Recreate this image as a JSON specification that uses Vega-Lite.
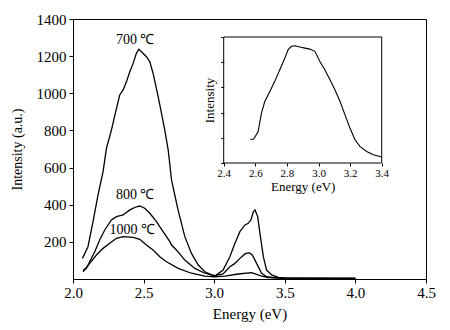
{
  "$schema": "https://vega.github.io/schema/vega-lite/v6.json",
  "width": 353,
  "height": 260,
  "autosize": {"type": "none"},
  "padding": {"left": 73, "top": 19, "right": 24, "bottom": 51},
  "background": "white",
  "config": {
    "view": {"stroke": "black", "strokeWidth": 1},
    "font": "Times New Roman",
    "text": {"font": "Times New Roman"},
    "axis": {
      "grid": false,
      "domainColor": "black",
      "tickColor": "black",
      "labelColor": "black",
      "titleColor": "black",
      "labelFont": "Times New Roman",
      "titleFont": "Times New Roman",
      "titleFontWeight": "normal",
      "labelFlush": false,
      "labelOverlap": false
    }
  },
  "datasets": {
    "main": [
      {"s": "700", "e": 2.067, "i": 111}, {"s": "700", "e": 2.106, "i": 174}, {"s": "700", "e": 2.142, "i": 309},
      {"s": "700", "e": 2.177, "i": 452}, {"s": "700", "e": 2.213, "i": 578}, {"s": "700", "e": 2.237, "i": 704},
      {"s": "700", "e": 2.272, "i": 802}, {"s": "700", "e": 2.308, "i": 919}, {"s": "700", "e": 2.331, "i": 991},
      {"s": "700", "e": 2.355, "i": 1018}, {"s": "700", "e": 2.379, "i": 1063}, {"s": "700", "e": 2.402, "i": 1116},
      {"s": "700", "e": 2.426, "i": 1161}, {"s": "700", "e": 2.449, "i": 1215}, {"s": "700", "e": 2.466, "i": 1237},
      {"s": "700", "e": 2.485, "i": 1224}, {"s": "700", "e": 2.52, "i": 1197}, {"s": "700", "e": 2.544, "i": 1170},
      {"s": "700", "e": 2.567, "i": 1108}, {"s": "700", "e": 2.603, "i": 982}, {"s": "700", "e": 2.627, "i": 892},
      {"s": "700", "e": 2.65, "i": 802}, {"s": "700", "e": 2.674, "i": 695}, {"s": "700", "e": 2.698, "i": 533},
      {"s": "700", "e": 2.72, "i": 455}, {"s": "700", "e": 2.744, "i": 372}, {"s": "700", "e": 2.792, "i": 228},
      {"s": "700", "e": 2.839, "i": 138}, {"s": "700", "e": 2.887, "i": 75}, {"s": "700", "e": 2.934, "i": 39},
      {"s": "700", "e": 2.981, "i": 22}, {"s": "700", "e": 3.005, "i": 16}, {"s": "700", "e": 3.063, "i": 48},
      {"s": "700", "e": 3.111, "i": 120}, {"s": "700", "e": 3.147, "i": 192}, {"s": "700", "e": 3.182, "i": 255},
      {"s": "700", "e": 3.218, "i": 291}, {"s": "700", "e": 3.241, "i": 300}, {"s": "700", "e": 3.26, "i": 318},
      {"s": "700", "e": 3.277, "i": 362}, {"s": "700", "e": 3.289, "i": 372}, {"s": "700", "e": 3.308, "i": 336},
      {"s": "700", "e": 3.324, "i": 246}, {"s": "700", "e": 3.348, "i": 120}, {"s": "700", "e": 3.371, "i": 48},
      {"s": "700", "e": 3.407, "i": 22}, {"s": "700", "e": 3.454, "i": 9}, {"s": "700", "e": 3.5, "i": 6},
      {"s": "700", "e": 3.7, "i": 5}, {"s": "700", "e": 4.0, "i": 4},
      {"s": "800", "e": 2.071, "i": 48}, {"s": "800", "e": 2.095, "i": 57}, {"s": "800", "e": 2.118, "i": 93},
      {"s": "800", "e": 2.154, "i": 147}, {"s": "800", "e": 2.189, "i": 210}, {"s": "800", "e": 2.225, "i": 264},
      {"s": "800", "e": 2.272, "i": 318}, {"s": "800", "e": 2.308, "i": 336}, {"s": "800", "e": 2.355, "i": 345},
      {"s": "800", "e": 2.402, "i": 372}, {"s": "800", "e": 2.449, "i": 389}, {"s": "800", "e": 2.473, "i": 393},
      {"s": "800", "e": 2.508, "i": 381}, {"s": "800", "e": 2.544, "i": 354}, {"s": "800", "e": 2.591, "i": 309},
      {"s": "800", "e": 2.638, "i": 255}, {"s": "800", "e": 2.686, "i": 201}, {"s": "800", "e": 2.698, "i": 183},
      {"s": "800", "e": 2.733, "i": 156}, {"s": "800", "e": 2.792, "i": 102}, {"s": "800", "e": 2.863, "i": 57},
      {"s": "800", "e": 2.934, "i": 31}, {"s": "800", "e": 3.005, "i": 18}, {"s": "800", "e": 3.063, "i": 27},
      {"s": "800", "e": 3.111, "i": 66}, {"s": "800", "e": 3.147, "i": 84}, {"s": "800", "e": 3.182, "i": 111},
      {"s": "800", "e": 3.218, "i": 135}, {"s": "800", "e": 3.246, "i": 142}, {"s": "800", "e": 3.27, "i": 129},
      {"s": "800", "e": 3.3, "i": 84}, {"s": "800", "e": 3.336, "i": 31}, {"s": "800", "e": 3.371, "i": 12},
      {"s": "800", "e": 3.45, "i": 6}, {"s": "800", "e": 3.6, "i": 4}, {"s": "800", "e": 4.0, "i": 3},
      {"s": "1000", "e": 2.071, "i": 39}, {"s": "1000", "e": 2.118, "i": 84}, {"s": "1000", "e": 2.166, "i": 129},
      {"s": "1000", "e": 2.213, "i": 165}, {"s": "1000", "e": 2.26, "i": 192}, {"s": "1000", "e": 2.308, "i": 219},
      {"s": "1000", "e": 2.355, "i": 228}, {"s": "1000", "e": 2.426, "i": 224}, {"s": "1000", "e": 2.473, "i": 214},
      {"s": "1000", "e": 2.52, "i": 183}, {"s": "1000", "e": 2.567, "i": 156}, {"s": "1000", "e": 2.615, "i": 120},
      {"s": "1000", "e": 2.662, "i": 93}, {"s": "1000", "e": 2.745, "i": 57}, {"s": "1000", "e": 2.839, "i": 31},
      {"s": "1000", "e": 2.934, "i": 16}, {"s": "1000", "e": 3.005, "i": 12}, {"s": "1000", "e": 3.076, "i": 16},
      {"s": "1000", "e": 3.17, "i": 27}, {"s": "1000", "e": 3.265, "i": 34}, {"s": "1000", "e": 3.336, "i": 16},
      {"s": "1000", "e": 3.383, "i": 7}, {"s": "1000", "e": 3.5, "i": 3}, {"s": "1000", "e": 4.0, "i": 2}
    ],
    "labels": [
      {"t": "700 ℃", "e": 2.44, "i": 1287},
      {"t": "800 ℃", "e": 2.44, "i": 452},
      {"t": "1000 ℃", "e": 2.42, "i": 264}
    ],
    "inset": [
      {"e": 2.569, "i": 0.93}, {"e": 2.59, "i": 0.95}, {"e": 2.618, "i": 1.25}, {"e": 2.639, "i": 1.98},
      {"e": 2.66, "i": 2.44}, {"e": 2.692, "i": 2.84}, {"e": 2.723, "i": 3.24}, {"e": 2.755, "i": 3.7},
      {"e": 2.787, "i": 4.17}, {"e": 2.808, "i": 4.5}, {"e": 2.829, "i": 4.63}, {"e": 2.85, "i": 4.65},
      {"e": 2.882, "i": 4.6}, {"e": 2.914, "i": 4.56}, {"e": 2.945, "i": 4.52}, {"e": 2.977, "i": 4.43},
      {"e": 3.009, "i": 4.03}, {"e": 3.04, "i": 3.7}, {"e": 3.072, "i": 3.31}, {"e": 3.104, "i": 2.91},
      {"e": 3.136, "i": 2.45}, {"e": 3.167, "i": 1.92}, {"e": 3.199, "i": 1.39}, {"e": 3.231, "i": 0.92},
      {"e": 3.262, "i": 0.66}, {"e": 3.305, "i": 0.46}, {"e": 3.347, "i": 0.33}, {"e": 3.4, "i": 0.24}
    ]
  },
  "layer": [
    {
      "data": {"name": "main"},
      "mark": {"type": "line", "color": "black", "strokeWidth": 1.3},
      "encoding": {
        "x": {
          "field": "e", "type": "quantitative",
          "scale": {"domain": [2, 4.5], "nice": false, "zero": false},
          "axis": {"orient": "bottom", "title": "Energy (eV)", "values": [2, 2.5, 3, 3.5, 4, 4.5], "format": ".1f",
                   "labelFontSize": 15, "titleFontSize": 15, "tickSize": 4, "labelPadding": 2, "titlePadding": 6}
        },
        "y": {
          "field": "i", "type": "quantitative",
          "scale": {"domain": [0, 1400], "nice": false, "zero": true},
          "axis": {"orient": "left", "title": "Intensity (a.u.)", "values": [200, 400, 600, 800, 1000, 1200, 1400],
                   "format": "d", "labelFontSize": 15, "titleFontSize": 14, "tickSize": 4, "labelPadding": 3, "titlePadding": 12}
        },
        "detail": {"field": "s"}
      }
    },
    {
      "data": {"name": "labels"},
      "mark": {"type": "text", "fontSize": 14, "font": "Times New Roman", "color": "black"},
      "encoding": {
        "x": {"field": "e", "type": "quantitative", "scale": {"domain": [2, 4.5], "nice": false, "zero": false}, "axis": null},
        "y": {"field": "i", "type": "quantitative", "scale": {"domain": [0, 1400], "nice": false, "zero": true}, "axis": null},
        "text": {"field": "t"}
      }
    },
    {
      "data": {"values": [{"x0": 2.4, "x1": 3.4, "y0": 0, "y1": 5}]},
      "mark": {"type": "rect", "fill": "white", "stroke": "black", "strokeWidth": 1},
      "encoding": {
        "x": {"field": "x0", "type": "quantitative",
              "scale": {"domain": [2.4, 3.4], "range": [150.7, 308.7], "nice": false, "zero": false}, "axis": null},
        "x2": {"field": "x1"},
        "y": {"field": "y0", "type": "quantitative",
              "scale": {"domain": [0, 5], "range": [144, 18], "nice": false, "zero": false}, "axis": null},
        "y2": {"field": "y1"}
      }
    },
    {
      "data": {"name": "inset"},
      "mark": {"type": "line", "color": "black", "strokeWidth": 1.1},
      "encoding": {
        "x": {"field": "e", "type": "quantitative",
              "scale": {"domain": [2.4, 3.4], "range": [150.7, 308.7], "nice": false, "zero": false},
              "axis": {"orient": "bottom", "zindex": 1, "title": "Energy (eV)", "values": [2.4, 2.6, 2.8, 3.0, 3.2, 3.4], "format": ".1f",
                       "offset": -116, "domain": false, "tickSize": 3, "labelFontSize": 11, "titleFontSize": 13,
                       "labelPadding": 1, "titlePadding": 2}},
        "y": {"field": "i", "type": "quantitative",
              "scale": {"domain": [0, 5], "range": [144, 18], "nice": false, "zero": false},
              "axis": {"orient": "left", "zindex": 1, "title": "Intensity", "labels": false, "values": [0, 1, 2, 3, 4, 5],
                       "offset": -150.7, "domain": false, "tickSize": 3, "titleFontSize": 13, "titlePadding": 4}}
      }
    }
  ],
  "resolve": {"scale": {"x": "independent", "y": "independent"}, "axis": {"x": "independent", "y": "independent"}}
}
